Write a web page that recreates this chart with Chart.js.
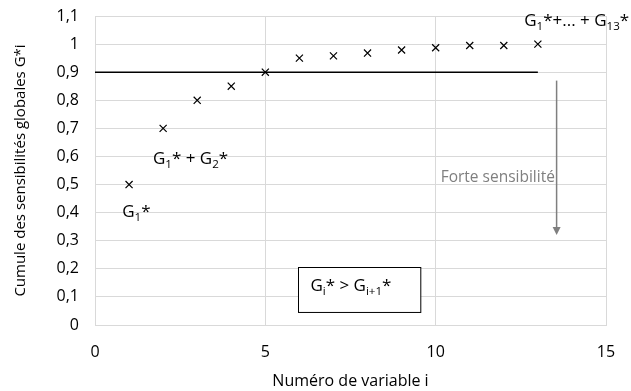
<!DOCTYPE html>
<html>
<head>
<meta charset="utf-8">
<script src="https://cdn.jsdelivr.net/npm/chart.js@4"></script>
<style>
  html, body { margin: 0; padding: 0; background: #fff; }
  #wrap { width: 631px; height: 391px; }
</style>
</head>
<body>
<div id="wrap"><canvas id="chart"></canvas></div>
<script>
// Données
const variables = [1, 2, 3, 4, 5, 6, 7, 8, 9, 10, 11, 12, 13];
const cumulG = [0.5, 0.7, 0.8, 0.85, 0.9, 0.95, 0.958, 0.968, 0.979, 0.987, 0.995, 0.995, 1.0];
const seuilX = [0, 13];
const seuilY = [0.9, 0.9];
const xTicks = [0, 5, 10, 15];
const yTicks = [0, 0.1, 0.2, 0.3, 0.4, 0.5, 0.6, 0.7, 0.8, 0.9, 1, 1.1];

const FONT = '"Open Sans", "Noto Sans", sans-serif';

// petit helper pour écrire G avec indices
function drawRich(ctx, parts, x, y, size, color) {
  ctx.save();
  ctx.fillStyle = color;
  ctx.textBaseline = 'middle';
  ctx.textAlign = 'left';
  let cx = x;
  parts.forEach(p => {
    const s = p.sub ? size * 0.68 : size;
    ctx.font = s + 'px ' + FONT;
    ctx.fillText(p.t, cx, p.sub ? y + size * 0.32 : y);
    cx += ctx.measureText(p.t).width;
  });
  ctx.restore();
}

const annotations = {
  id: 'annotations',
  afterDatasetsDraw(chart) {
    const { ctx, scales: { x, y } } = chart;
    // G1*
    drawRich(ctx, [{t:'G'},{t:'1',sub:true},{t:'*'}], x.getPixelForValue(0.8), y.getPixelForValue(0.40), 17, '#000');
    // G1* + G2*
    drawRich(ctx, [{t:'G'},{t:'1',sub:true},{t:'* + G'},{t:'2',sub:true},{t:'*'}], x.getPixelForValue(1.7), y.getPixelForValue(0.59), 17, '#000');
    // G1*+... + G13*
    drawRich(ctx, [{t:'G'},{t:'1',sub:true},{t:'*+... + G'},{t:'13',sub:true},{t:'*'}], x.getPixelForValue(12.6), y.getPixelForValue(1.08), 17, '#000');

    // Forte sensibilité + flèche
    ctx.save();
    ctx.fillStyle = '#7f7f7f';
    ctx.font = '15.5px ' + FONT;
    ctx.textAlign = 'right';
    ctx.textBaseline = 'middle';
    ctx.fillText('Forte sensibilité', x.getPixelForValue(13.5), y.getPixelForValue(0.525));
    const ax = x.getPixelForValue(13.55);
    const ay1 = y.getPixelForValue(0.87);
    const ay2 = y.getPixelForValue(0.32);
    ctx.strokeStyle = '#7f7f7f';
    ctx.lineWidth = 1.5;
    ctx.beginPath();
    ctx.moveTo(ax, ay1);
    ctx.lineTo(ax, ay2 - 6);
    ctx.stroke();
    ctx.beginPath();
    ctx.moveTo(ax - 4, ay2 - 8);
    ctx.lineTo(ax + 4, ay2 - 8);
    ctx.lineTo(ax, ay2);
    ctx.closePath();
    ctx.fill();
    ctx.restore();

    // encadré Gi* > Gi+1*
    const bx1 = x.getPixelForValue(5.97), bx2 = x.getPixelForValue(9.56);
    const by1 = y.getPixelForValue(0.206), by2 = y.getPixelForValue(0.046);
    ctx.save();
    ctx.fillStyle = '#fff';
    ctx.fillRect(bx1, by1, bx2 - bx1, by2 - by1);
    ctx.strokeStyle = '#000';
    ctx.lineWidth = 1;
    ctx.strokeRect(Math.round(bx1) + 0.5, Math.round(by1) + 0.5, bx2 - bx1, by2 - by1);
    ctx.restore();
    drawRich(ctx, [{t:'G'},{t:'i',sub:true},{t:'* > G'},{t:'i+1',sub:true},{t:'*'}], bx1 + 12, (by1 + by2) / 2 - 3, 17, '#000');
  }
};

new Chart(document.getElementById('chart'), {
  type: 'scatter',
  data: {
    datasets: [
      {
        label: 'Cumule',
        data: variables.map((v, i) => ({ x: v, y: cumulG[i] })),
        pointStyle: 'crossRot',
        pointRadius: 5,
        pointBorderWidth: 1.2,
        borderColor: '#000',
        backgroundColor: '#000'
      },
      {
        label: 'Seuil',
        data: seuilX.map((v, i) => ({ x: v, y: seuilY[i] })),
        showLine: true,
        borderColor: '#000',
        borderWidth: 1.5,
        pointRadius: 0
      }
    ]
  },
  options: {
    responsive: true,
    maintainAspectRatio: false,
    animation: false,
    layout: { padding: { top: 16, right: 25, left: 8, bottom: 0 } },
    plugins: { legend: { display: false }, tooltip: { enabled: false } },
    scales: {
      x: {
        min: 0, max: 15,
        afterBuildTicks: s => { s.ticks = xTicks.map(v => ({ value: v })); },
        afterFit: s => { s.height = 66; s.paddingLeft = 0; s.paddingRight = 0; },
        grid: { color: '#d9d9d9', drawTicks: false },
        border: { color: '#d9d9d9' },
        ticks: { color: '#000', font: { family: FONT, size: 16 }, padding: 18 },
        title: { display: true, text: 'Numéro de variable i', color: '#000', font: { family: FONT, size: 16 }, padding: { top: 10, bottom: 0 } }
      },
      y: {
        min: 0, max: 1.1,
        afterBuildTicks: s => { s.ticks = yTicks.map(v => ({ value: v })); },
        afterFit: s => { s.width = 87; s.paddingTop = 0; s.paddingBottom = 0; },
        grid: { color: '#d9d9d9', drawTicks: false },
        border: { color: '#d9d9d9' },
        ticks: {
          color: '#000', font: { family: FONT, size: 16 }, padding: 16,
          callback: v => String(Math.round(v * 10) / 10).replace('.', ',')
        },
        title: { display: true, text: 'Cumule des sensibilités globales G*i', color: '#000', font: { family: FONT, size: 15 }, padding: { bottom: 0 } }
      }
    }
  },
  plugins: [annotations]
});
</script>
</body>
</html>
